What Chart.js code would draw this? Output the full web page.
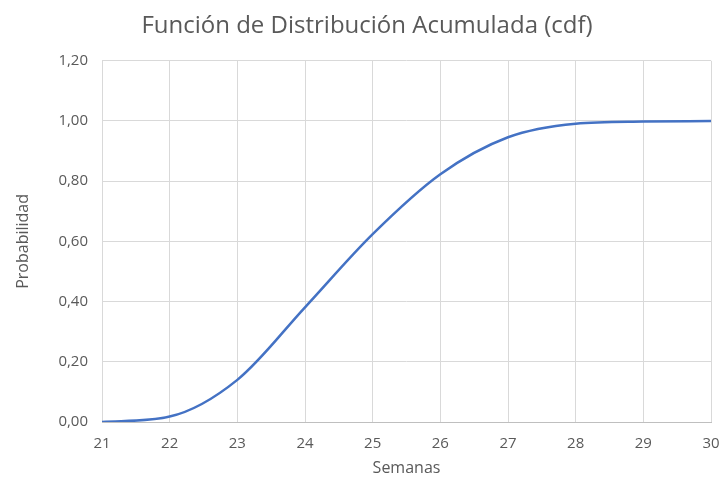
<!DOCTYPE html>
<html>
<head>
<meta charset="utf-8">
<script src="https://cdn.jsdelivr.net/npm/chart.js@4"></script>
<style>
  body { margin: 0; background: #fff; }
  #wrap { width: 724px; height: 482px; }
</style>
</head>
<body>
<div id="wrap"><canvas id="cdfCanvas" width="724" height="482"></canvas></div>
<script>
// semanas y probabilidad acumulada
const semanas = [21, 22, 23, 24, 25, 26, 27, 28, 29, 30];
const probabilidad = [0.000, 0.018, 0.140, 0.381, 0.624, 0.823, 0.946, 0.991, 0.998, 1.000];
const yTicks = [0, 0.2, 0.4, 0.6, 0.8, 1.0, 1.2];

const textColor = '#595959';
const gridColor = '#d9d9d9';
const fontFamily = "'Open Sans', 'Noto Sans', sans-serif";

const ctx = document.getElementById('cdfCanvas').getContext('2d');

new Chart(ctx, {
    type: 'scatter',
    data: {
        datasets: [{
            label: 'cdf',
            data: semanas.map((s, i) => ({ x: s, y: probabilidad[i] })),
            showLine: true,
            borderColor: '#4472C4',
            borderWidth: 2.5,
            pointRadius: 0,
            cubicInterpolationMode: 'monotone',
            fill: false
        }]
    },
    options: {
        responsive: false,
        animation: false,
        layout: { padding: { left: 10, right: 0, top: 0, bottom: 0 } },
        plugins: {
            legend: { display: false },
            tooltip: { enabled: false },
            title: {
                display: true,
                text: 'Función de Distribución Acumulada (cdf)',
                color: textColor,
                font: { family: fontFamily, size: 24, weight: 'normal' },
                padding: { top: 12, bottom: 20 }
            }
        },
        scales: {
            x: {
                type: 'linear',
                min: 21,
                max: 30,
                ticks: {
                    stepSize: 1,
                    color: textColor,
                    font: { family: fontFamily, size: 15 },
                    padding: 13
                },
                grid: { color: gridColor, lineWidth: 1, drawTicks: false },
                border: { color: '#bfbfbf' },
                title: {
                    display: true,
                    text: 'Semanas',
                    color: textColor,
                    font: { family: fontFamily, size: 16 },
                    padding: { top: 10 }
                },
                afterFit: s => { s.height = 60; s.paddingRight = 13; s.paddingLeft = 0; }
            },
            y: {
                min: 0,
                max: 1.2,
                afterBuildTicks: s => { s.ticks = yTicks.map(v => ({ value: v })); },
                ticks: {
                    color: textColor,
                    font: { family: fontFamily, size: 15 },
                    padding: 14,
                    callback: v => v.toFixed(2).replace('.', ',')
                },
                grid: { color: gridColor, lineWidth: 1, drawTicks: false },
                border: { display: false },
                title: {
                    display: true,
                    text: 'Probabilidad',
                    color: textColor,
                    font: { family: fontFamily, size: 16 },
                    padding: { top: 4, bottom: 0 }
                },
                afterFit: s => { s.width = 92; }
            }
        }
    }
});
</script>
</body>
</html>
